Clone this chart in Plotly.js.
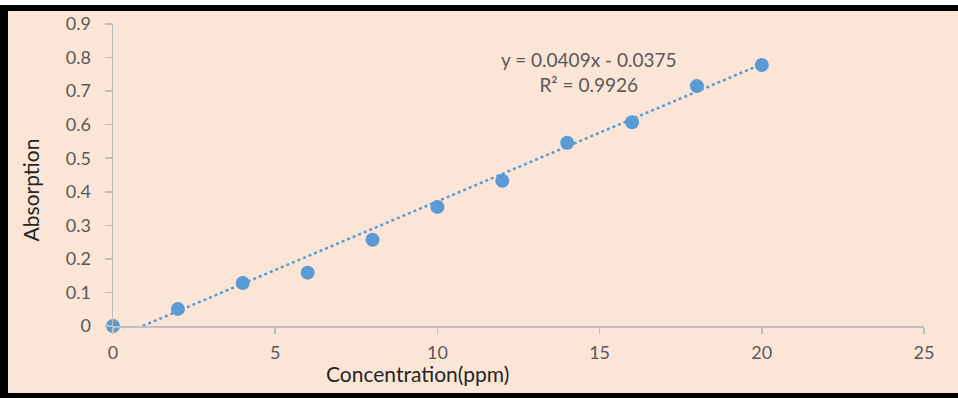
<!DOCTYPE html>
<html>
<head>
<meta charset="utf-8">
<script src="https://cdn.plot.ly/plotly-3.0.1.min.js"></script>
<style>
  html, body { margin: 0; padding: 0; background: #ffffff; width: 958px; height: 398px; overflow: hidden; }
  #frame { position: absolute; left: 0; top: 5px; width: 958px; height: 393px; box-sizing: border-box;
           border-left: 8px solid #000; border-top: 6px solid #000; border-bottom: 5px solid #000; background: #FBE5D6; }
  #chart { width: 950px; height: 382px; }
</style>
</head>
<body>
<div id="frame"><div id="chart"></div></div>
<script>
// Data
const concentration = [0, 2, 4, 6, 8, 10, 12, 14, 16, 18, 20];
const absorption = [0, 0.051, 0.128, 0.159, 0.257, 0.355, 0.433, 0.546, 0.607, 0.715, 0.778];
const slope = 0.0409;
const intercept = -0.0375;
const rSquared = 0.9926;
const xTicks = [0, 5, 10, 15, 20, 25];
const yTicks = [0, 0.1, 0.2, 0.3, 0.4, 0.5, 0.6, 0.7, 0.8, 0.9];
const xTitle = 'Concentration(ppm)';
const yTitle = 'Absorption';

// Linear trendline from the displayed equation, from its x-intercept to the last point
const xStart = -intercept / slope;
const xEnd = concentration[concentration.length - 1];
const trendX = [xStart, xEnd];
const trendY = trendX.map(x => slope * x + intercept);

const blue = '#5B9BD5';
const grey = '#595959';
const axisGrey = '#BFBFBF';
const font = 'Lato, "Open Sans", Arial, sans-serif';

const traces = [
  { x: trendX, y: trendY, mode: 'lines', type: 'scatter',
    line: { color: blue, width: 2.5, dash: 'dot' }, hoverinfo: 'skip', showlegend: false, cliponaxis: false },
  { x: concentration, y: absorption, mode: 'markers', type: 'scatter',
    marker: { color: blue, size: 14 }, showlegend: false, cliponaxis: false }
];

const layout = {
  width: 950, height: 382,
  paper_bgcolor: '#FBE5D6', plot_bgcolor: '#FBE5D6',
  margin: { l: 105, r: 34, t: 13, b: 67 },
  font: { family: font, size: 18, color: grey },
  showlegend: false,
  xaxis: {
    range: [0, 25], tickvals: xTicks, ticktext: xTicks.map(String),
    showgrid: false, zeroline: false, showline: true, linecolor: axisGrey, linewidth: 1.5,
    ticks: 'outside', ticklen: 6, tickcolor: axisGrey, tickwidth: 1.5, ticklabelstandoff: 4,
    tickfont: { family: font, size: 18, color: grey }
  },
  yaxis: {
    range: [0, 0.9], tickvals: yTicks, ticktext: yTicks.map(v => String(v)),
    showgrid: false, zeroline: false, showline: true, linecolor: axisGrey, linewidth: 1.5,
    ticks: 'outside', ticklen: 7, tickcolor: axisGrey, tickwidth: 1.5, ticklabelstandoff: 10,
    tickfont: { family: font, size: 18, color: grey }
  },
  annotations: [
    { xref: 'x', yref: 'y', x: 14.67, y: 0.758, showarrow: false, align: 'center',
      xanchor: 'center', yanchor: 'middle',
      text: 'y = ' + slope.toFixed(4) + 'x - ' + Math.abs(intercept).toFixed(4) + '<br>R² = ' + rSquared.toFixed(4),
      font: { family: font, size: 19, color: grey } },
    { xref: 'paper', yref: 'paper', x: 0.376, y: -0.158, showarrow: false,
      xanchor: 'center', yanchor: 'middle', text: xTitle,
      font: { family: font, size: 21, color: '#262626' } },
    { xref: 'paper', yref: 'paper', x: -0.102, y: 0.45, showarrow: false, textangle: -90,
      xanchor: 'center', yanchor: 'middle', text: yTitle,
      font: { family: font, size: 21, color: '#262626' } }
  ]
};

Plotly.newPlot('chart', traces, layout, { displayModeBar: false, staticPlot: true });
</script>
</body>
</html>
